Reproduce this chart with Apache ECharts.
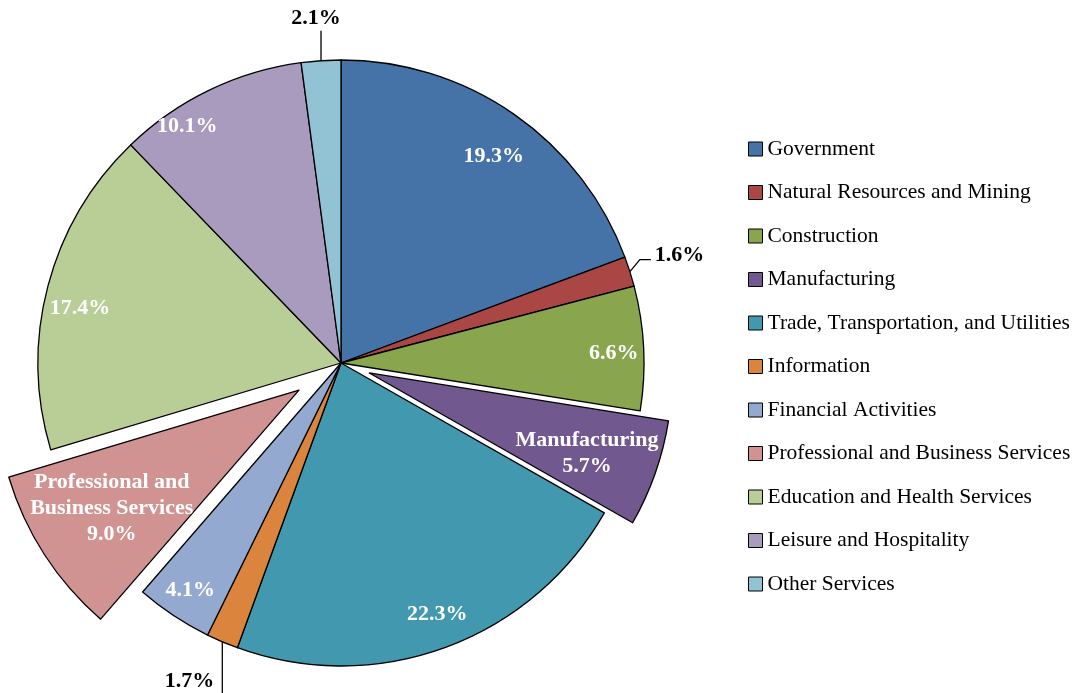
<!DOCTYPE html>
<html><head><meta charset="utf-8">
<script src="https://cdn.jsdelivr.net/npm/echarts@6/dist/echarts.min.js"></script>
<style>html,body{margin:0;padding:0;background:#fff}#c{width:1079px;height:693px}</style>
</head><body><div id="c"></div>
<script>
const categories = ['Government','Natural Resources and Mining','Construction','Manufacturing','Trade, Transportation, and Utilities','Information','Financial Activities','Professional and Business Services','Education and Health Services','Leisure and Hospitality','Other Services'];
const shares = [19.3, 1.6, 6.6, 5.7, 22.3, 1.7, 4.1, 9.0, 17.4, 10.1, 2.1];
const colors = ['#4572A7','#AA4643','#89A54E','#71588F','#4198AF','#DB843D','#93A9CF','#D19392','#B9CD96','#A99BBD','#92C3D4'];
const sliceLabelNames = ['', '', '', 'Manufacturing', '', '', '', 'Professional and\nBusiness Services', '', '', ''];
const insideLabelIdx = [0, 2, 4, 6, 8, 9];
const outsideLabelIdx = [1, 5, 10];
const explodedA = 3;  // Manufacturing
const explodedB = 7;  // Professional and Business Services

const CENTER = [341, 363], R = 303;
const FONT = '"Liberation Serif", "Times New Roman", serif';
// small nudges of some inside labels (label placement only)
const labelNudge = { 0: [-3, 18], 2: [0, 4], 4: [2, -5], 8: [3, 15], 9: [-35, 9], 3: [-3, 3], 7: [0, -3] };
const hidden = { color: 'rgba(0,0,0,0)', borderWidth: 0 };
const pct = i => shares[i].toFixed(1) + '%';
const txt = i => (sliceLabelNames[i] ? sliceLabelNames[i] + '\n' : '') + pct(i);
const insideLabel = { show: true, position: 'inside', color: '#fff', fontWeight: 'bold', fontSize: 22, fontFamily: FONT, lineHeight: 26 };
const common = { type: 'pie', center: CENTER, avoidLabelOverlap: false, silent: true, emphasis: { disabled: true }, animation: false, labelLine: { show: false } };

const mainSeries = Object.assign({}, common, {
  radius: [0, R], selectedMode: 'multiple', selectedOffset: 30,
  itemStyle: { borderColor: '#000', borderWidth: 1.3 },
  label: { show: false },
  data: categories.map((n, i) => ({
    name: n, value: shares[i], selected: i === explodedA,
    itemStyle: i === explodedB ? hidden : { color: colors[i] },
    label: outsideLabelIdx.includes(i)
      ? { show: true, position: 'outside', formatter: pct(i), color: '#000', fontWeight: 'bold', fontSize: 22, fontFamily: FONT }
      : { show: false },
    labelLine: outsideLabelIdx.includes(i)
      ? { show: true, length: 12, length2: 10, lineStyle: { color: '#000', width: 1.3 } }
      : { show: false }
  })),
  labelLayout: function (p) {
    if (!p.labelLinePoints) return {};
    const e = p.labelLinePoints[0];
    if (p.dataIndex === 1) {
      return { x: e[0] + 25, y: e[1] - 16, align: 'left', verticalAlign: 'middle',
        labelLinePoints: [e, [e[0] + 10, e[1] - 12], [e[0] + 21, e[1] - 12]] };
    }
    if (p.dataIndex === 5) {
      return { x: e[0] - 8, y: e[1] + 40, align: 'right', verticalAlign: 'middle',
        labelLinePoints: [e, [e[0], e[1] + 25], [e[0], e[1] + 52]] };
    }
    if (p.dataIndex === 10) {
      return { x: e[0] - 5, y: e[1] - 31, align: 'center', verticalAlign: 'bottom',
        labelLinePoints: [e, [e[0], e[1] - 15], [e[0], e[1] - 30]] };
    }
    return {};
  }
});

const profSeries = Object.assign({}, common, {
  radius: [0, R], selectedMode: 'multiple', selectedOffset: 50,
  label: { show: false },
  data: categories.map((n, i) => ({
    name: n, value: shares[i], selected: i === explodedB,
    itemStyle: i === explodedB ? { color: colors[i], borderColor: '#000', borderWidth: 1.3 } : hidden
  }))
});

function labelSeries(r0, offset, idxs, selIdx) {
  return Object.assign({}, common, {
    radius: [r0, R], selectedMode: 'multiple', selectedOffset: offset,
    itemStyle: hidden,
    data: categories.map((n, i) => ({
      name: n, value: shares[i], selected: i === selIdx,
      label: idxs.includes(i) ? Object.assign({}, insideLabel, { formatter: txt(i) }) : { show: false }
    })),
    labelLayout: function (p) {
      const d = labelNudge[p.dataIndex];
      return d ? { dx: d[0], dy: d[1] } : {};
    }
  });
}

const chart = echarts.init(document.getElementById('c'), null, { renderer: 'canvas' });
chart.setOption({
  backgroundColor: '#fff',
  legend: {
    orient: 'vertical', left: 743, top: 133, itemWidth: 14, itemHeight: 14, itemGap: 21.5,
    icon: 'rect', selectedMode: false,
    textStyle: { fontFamily: FONT, fontSize: 21.5, color: '#000', lineHeight: 22 },
    data: categories.map((n, i) => ({ name: n, itemStyle: { color: colors[i], borderColor: '#000', borderWidth: 1 } }))
  },
  series: [
    mainSeries,
    profSeries,
    labelSeries(237, 0, insideLabelIdx, -1),
    labelSeries(159, 30, [explodedA], explodedA),
    labelSeries(137, 50, [explodedB], explodedB)
  ]
});
</script>
</body></html>
